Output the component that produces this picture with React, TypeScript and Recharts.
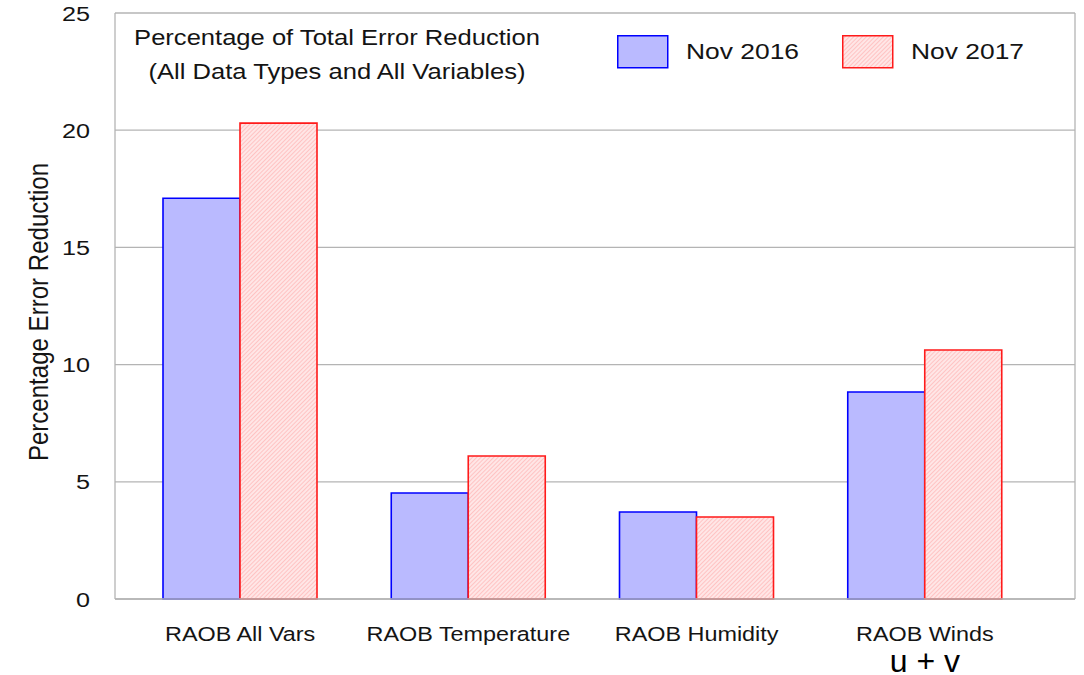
import React from "react";
import {
  Bar,
  BarChart,
  CartesianGrid,
  Legend,
  XAxis,
  YAxis,
} from "recharts";

// Values
const categories = ["RAOB All Vars", "RAOB Temperature", "RAOB Humidity", "RAOB Winds"];
const subLabels = ["", "", "", "u + v"];
const nov2016 = [17.1, 4.52, 3.71, 8.83];
const nov2017 = [20.3, 6.1, 3.5, 10.62];
const yTicks = [0, 5, 10, 15, 20, 25];

const data = categories.map((name, i) => ({
  name,
  sub: subLabels[i],
  nov2016: nov2016[i],
  nov2017: nov2017[i],
}));

const FONT = '"Liberation Sans", Arial, Helvetica, sans-serif';
const INK = "#141414";
const GRID = "#b4b4b4";
const BLUE_FILL = "#babaff";
const BLUE = "#0000ff";
const RED = "#ff1a1a";
// the original image is stretched sideways a bit, text with it
const STRETCH = 1.2;

function HatchDefs({ id }: { id: string }) {
  return (
    <defs>
      <pattern
        id={id}
        width={3}
        height={3}
        patternUnits="userSpaceOnUse"
        patternTransform="rotate(45)"
      >
        <rect width={3} height={3} fill="#ffe6e6" />
        <line x1={0} y1={0} x2={0} y2={3} stroke="#ffb4b4" strokeWidth={1.4} />
      </pattern>
    </defs>
  );
}

function XTick(props: any) {
  const { x, y, payload, index } = props;
  const sub = subLabels[index] ?? "";
  return (
    <g transform={`translate(${x},${y})`}>
      <text
        transform={`scale(${STRETCH},1)`}
        y={42}
        textAnchor="middle"
        fontSize={19.5}
        fontFamily={FONT}
        fill={INK}
      >
        {payload.value}
      </text>
      {sub && (
        <text y={73} textAnchor="middle" fontSize={32} fontFamily={FONT} fill="#000">
          {sub}
        </text>
      )}
    </g>
  );
}

function YTick(props: any) {
  const { x, y, payload } = props;
  return (
    <g transform={`translate(${x - 25},${y}) scale(${STRETCH},1)`}>
      <text dy="0.36em" textAnchor="end" fontSize={21} fontFamily={FONT} fill={INK}>
        {payload.value}
      </text>
    </g>
  );
}

function YLabel(props: any) {
  const vb = props.viewBox || { x: 55, y: 13, width: 60, height: 586 };
  const cx = vb.x - 17;
  const cy = vb.y + vb.height / 2 + 6;
  return (
    <g transform={`translate(${cx},${cy}) rotate(-90) scale(1.07,${STRETCH})`}>
      <text dy="0.36em" textAnchor="middle" fontSize={22.5} fontFamily={FONT} fill={INK}>
        Percentage Error Reduction
      </text>
    </g>
  );
}

const legendFill: Record<string, string> = {
  nov2016: BLUE_FILL,
  nov2017: "url(#hatchLegend)",
};
const legendStroke: Record<string, string> = { nov2016: BLUE, nov2017: RED };

function LegendBox(props: any) {
  const items = props.payload || [];
  return (
    <div style={{ display: "flex", alignItems: "center", fontFamily: FONT }}>
      {items.map((it: any) => (
        <div key={it.dataKey} style={{ display: "flex", alignItems: "center" }}>
          <svg width={52} height={34} style={{ display: "block", marginRight: 17 }}>
            <HatchDefs id="hatchLegend" />
            <rect
              x={0.75}
              y={0.75}
              width={50}
              height={32}
              fill={legendFill[it.dataKey]}
              stroke={legendStroke[it.dataKey]}
              strokeWidth={1.5}
            />
          </svg>
          <span
            style={{
              display: "inline-block",
              width: 114,
              marginRight: 42,
              fontSize: 22,
              color: INK,
              whiteSpace: "nowrap",
              transform: `scaleX(${STRETCH})`,
              transformOrigin: "left center",
            }}
          >
            {it.value}
          </span>
        </div>
      ))}
    </div>
  );
}

export default function App() {
  return (
    <div style={{ position: "absolute", left: 0, top: 0, width: 1084, height: 675, background: "#fff" }}>
      <BarChart
        width={1084}
        height={675}
        data={data}
        margin={{ top: 13, right: 8, bottom: 36, left: 55 }}
        barSize={77}
        barGap={0}
      >
        <HatchDefs id="hatchRed" />
        <CartesianGrid stroke={GRID} strokeWidth={1.3} vertical={false} />
        <XAxis
          dataKey="name"
          height={40}
          padding={{ left: 11, right: 36 }}
          axisLine={{ stroke: GRID, strokeWidth: 1.3 }}
          tickLine={false}
          tickSize={0}
          tickMargin={0}
          interval={0}
          tick={<XTick />}
        />
        <YAxis
          width={60}
          domain={[0, 25]}
          ticks={yTicks}
          axisLine={{ stroke: GRID, strokeWidth: 1.3 }}
          tickLine={false}
          tickSize={0}
          tickMargin={0}
          tick={<YTick />}
          label={<YLabel />}
        />
        <YAxis
          yAxisId="frame"
          orientation="right"
          width={1}
          domain={[0, 25]}
          ticks={yTicks}
          axisLine={{ stroke: GRID, strokeWidth: 1.3 }}
          tickLine={false}
          tick={false}
        />
        <Legend
          layout="horizontal"
          verticalAlign="middle"
          align="center"
          content={<LegendBox />}
          wrapperStyle={{ position: "absolute", top: 35, left: 617, width: "auto" }}
        />
        <Bar
          dataKey="nov2016"
          name="Nov 2016"
          fill={BLUE_FILL}
          stroke={BLUE}
          strokeWidth={1.6}
          isAnimationActive={false}
        />
        <Bar
          dataKey="nov2017"
          name="Nov 2017"
          fill="url(#hatchRed)"
          stroke={RED}
          strokeWidth={1.6}
          isAnimationActive={false}
        />
      </BarChart>
      <div
        style={{
          position: "absolute",
          left: 87,
          top: 21,
          width: 500,
          textAlign: "center",
          fontFamily: FONT,
          fontSize: 21.3,
          lineHeight: "34px",
          color: INK,
          transform: `scaleX(${STRETCH})`,
          transformOrigin: "center",
          pointerEvents: "none",
        }}
      >
        Percentage of Total Error Reduction
        <br />
        (All Data Types and All Variables)
      </div>
    </div>
  );
}
